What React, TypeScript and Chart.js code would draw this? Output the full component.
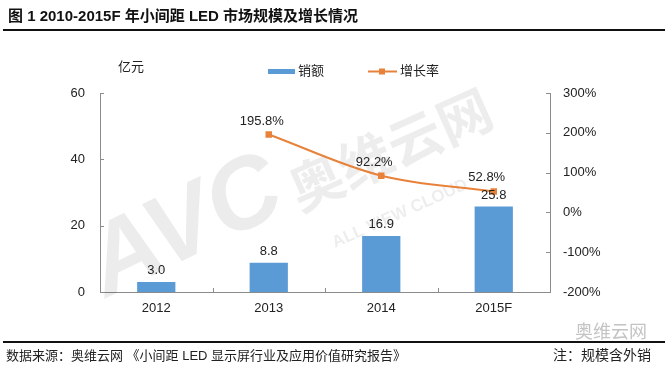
import React, { useEffect, useRef } from "react";
import { Chart, registerables } from "chart.js";

Chart.register(...registerables);

const categories = ["2012", "2013", "2014", "2015F"];
const salesValues = [3.0, 8.8, 16.9, 25.8];
const growthValues: (number | null)[] = [null, 195.8, 92.2, 52.8];
const salesLabel = "销额";
const growthLabel = "增长率";
const unitLabel = "亿元";

const FONT = "'Liberation Sans', 'Noto Sans CJK SC', Arial, sans-serif";
const BAR_COLOR = "#5B9BD5";
const LINE_COLOR = "#E8823A";
const AXIS_COLOR = "#8C8C8C";
const TEXT_COLOR = "#222222";

const decorPlugin = {
  id: "decor",
  beforeDatasetsDraw(chart: any) {
    const ctx = chart.ctx;
    ctx.save();
    ctx.fillStyle = "rgba(0,0,0,0.075)";
    ctx.translate(106, 298);
    ctx.rotate(-0.45);
    ctx.font = `bold italic 100px ${FONT}`;
    ctx.textBaseline = "alphabetic";
    ctx.fillText("AVC", 0, 0);
    ctx.restore();
    ctx.save();
    ctx.fillStyle = "rgba(0,0,0,0.07)";
    ctx.translate(300, 212);
    ctx.rotate(-0.42);
    ctx.font = `bold 54px 'Noto Sans CJK SC', sans-serif`;
    ctx.fillText("奥维云网", 0, 0);
    ctx.restore();
    ctx.save();
    ctx.fillStyle = "rgba(0,0,0,0.07)";
    ctx.translate(335, 248);
    ctx.rotate(-0.42);
    ctx.font = `bold 17px ${FONT}`;
    ctx.fillText("ALL VIEW CLOUD", 0, 0);
    ctx.restore();
  },
  afterDraw(chart: any) {
    const ctx = chart.ctx;
    const area = chart.chartArea;
    const y = chart.scales.y;
    const y1 = chart.scales.y1;
    const x = chart.scales.x;
    ctx.save();
    ctx.strokeStyle = AXIS_COLOR;
    ctx.lineWidth = 1;
    ctx.beginPath();
    y.ticks.forEach((t: any) => {
      const py = Math.round(y.getPixelForValue(t.value)) + 0.5;
      ctx.moveTo(area.left, py);
      ctx.lineTo(area.left + 4, py);
    });
    y1.ticks.forEach((t: any) => {
      const py = Math.round(y1.getPixelForValue(t.value)) + 0.5;
      ctx.moveTo(area.right - 4, py);
      ctx.lineTo(area.right, py);
    });
    for (let i = 0; i < categories.length - 1; i++) {
      const px = Math.round((x.getPixelForValue(i) + x.getPixelForValue(i + 1)) / 2) + 0.5;
      ctx.moveTo(px, area.bottom);
      ctx.lineTo(px, area.bottom - 4);
    }
    ctx.stroke();

    ctx.fillStyle = TEXT_COLOR;
    ctx.font = `13px ${FONT}`;
    ctx.textAlign = "center";
    ctx.textBaseline = "bottom";
    const barMeta = chart.getDatasetMeta(0);
    barMeta.data.forEach((el: any, i: number) => {
      ctx.fillText(salesValues[i].toFixed(1), el.x, el.y - 5);
    });
    const lineMeta = chart.getDatasetMeta(1);
    lineMeta.data.forEach((el: any, i: number) => {
      const v = growthValues[i];
      if (v === null || v === undefined) return;
      ctx.fillText(v.toFixed(1) + "%", el.x - 7, el.y - 7);
    });

    ctx.textBaseline = "middle";
    ctx.font = `13px ${FONT}`;
    ctx.fillText(unitLabel, 131, 67);

    ctx.fillStyle = BAR_COLOR;
    ctx.fillRect(268, 69, 27, 5);
    ctx.fillStyle = TEXT_COLOR;
    ctx.textAlign = "left";
    ctx.fillText(salesLabel, 298, 71);
    ctx.strokeStyle = LINE_COLOR;
    ctx.lineWidth = 2;
    ctx.beginPath();
    ctx.moveTo(368, 71.5);
    ctx.lineTo(397, 71.5);
    ctx.stroke();
    ctx.fillStyle = LINE_COLOR;
    ctx.fillRect(379, 68.5, 6, 6);
    ctx.fillStyle = TEXT_COLOR;
    ctx.fillText(growthLabel, 400, 71);
    ctx.restore();
  },
};

export default function App() {
  const canvasRef = useRef<HTMLCanvasElement | null>(null);

  useEffect(() => {
    if (!canvasRef.current) return;
    const chart = new Chart(canvasRef.current, {
      type: "bar",
      data: {
        labels: categories,
        datasets: [
          {
            type: "bar",
            label: salesLabel,
            data: salesValues,
            backgroundColor: BAR_COLOR,
            borderWidth: 0,
            barPercentage: 0.34,
            categoryPercentage: 1,
            yAxisID: "y",
            order: 2,
          },
          {
            type: "line",
            label: growthLabel,
            data: growthValues,
            borderColor: LINE_COLOR,
            backgroundColor: LINE_COLOR,
            borderWidth: 2,
            tension: 0.35,
            pointStyle: "rect",
            pointRadius: 4.6,
            pointBorderWidth: 0,
            pointBackgroundColor: LINE_COLOR,
            yAxisID: "y1",
            order: 1,
          } as any,
        ],
      },
      options: {
        responsive: false,
        animation: false,
        devicePixelRatio: 1,
        layout: { padding: { top: 93, left: 0, right: 0, bottom: 0 } },
        plugins: {
          legend: { display: false },
          tooltip: { enabled: false },
          title: { display: false },
        },
        scales: {
          x: {
            offset: true,
            grid: { display: false, drawTicks: false },
            border: { display: true, color: AXIS_COLOR, width: 1 },
            ticks: {
              color: TEXT_COLOR,
              font: { family: FONT, size: 13 },
              padding: 9,
              maxRotation: 0,
            },
            afterFit(scale: any) {
              scale.height = 83;
            },
          },
          y: {
            position: "left",
            min: 0,
            max: 60,
            grid: { display: false, drawTicks: false },
            border: { display: true, color: AXIS_COLOR, width: 1 },
            ticks: {
              stepSize: 20,
              color: TEXT_COLOR,
              font: { family: FONT, size: 13 },
              padding: 15,
            },
            afterFit(scale: any) {
              scale.width = 100;
            },
          },
          y1: {
            position: "right",
            min: -200,
            max: 300,
            grid: { display: false, drawTicks: false },
            border: { display: true, color: AXIS_COLOR, width: 1 },
            ticks: {
              stepSize: 100,
              color: TEXT_COLOR,
              font: { family: FONT, size: 13 },
              padding: 13,
              callback: (v: any) => `${v}%`,
            },
            afterFit(scale: any) {
              scale.width = 119;
            },
          },
        },
      },
      plugins: [decorPlugin],
    });
    return () => chart.destroy();
  }, []);

  return (
    <div
      style={{
        position: "absolute",
        left: 0,
        top: 0,
        width: 669,
        height: 375,
        background: "#ffffff",
        overflow: "hidden",
        fontFamily: FONT,
        color: TEXT_COLOR,
      }}
    >
      <canvas
        ref={canvasRef}
        width={669}
        height={375}
        style={{ position: "absolute", left: 0, top: 0, width: 669, height: 375 }}
      />
      <div
        style={{
          position: "absolute",
          left: 8,
          top: 6,
          fontSize: 15,
          fontWeight: "bold",
          lineHeight: "19px",
          whiteSpace: "nowrap",
          color: "#111",
        }}
      >
        图 1 2010-2015F 年小间距 LED 市场规模及增长情况
      </div>
      <div style={{ position: "absolute", left: 3, top: 29, width: 662, height: 2, background: "#111" }} />
      <div
        style={{
          position: "absolute",
          left: 575,
          top: 320,
          fontSize: 18,
          lineHeight: "20px",
          color: "#c4c4c4",
          whiteSpace: "nowrap",
          fontFamily: "'Noto Sans CJK SC', sans-serif",
        }}
      >
        奥维云网
      </div>
      <div style={{ position: "absolute", left: 3, top: 341, width: 662, height: 2, background: "#111" }} />
      <div
        style={{
          position: "absolute",
          left: 6,
          top: 347,
          fontSize: 13,
          lineHeight: "18px",
          whiteSpace: "nowrap",
        }}
      >
        数据来源：奥维云网 《小间距 LED 显示屏行业及应用价值研究报告》
      </div>
      <div
        style={{
          position: "absolute",
          left: 553,
          top: 346,
          fontSize: 14,
          lineHeight: "18px",
          whiteSpace: "nowrap",
        }}
      >
        注：规模含外销
      </div>
    </div>
  );
}
